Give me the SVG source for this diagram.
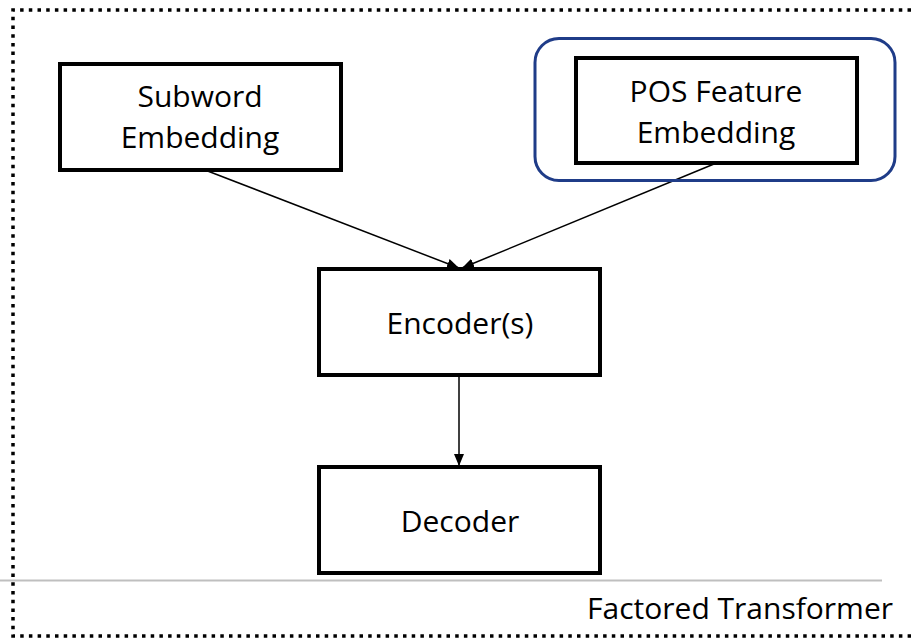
<svg xmlns="http://www.w3.org/2000/svg" width="911" height="638" viewBox="0 0 911 638">
<style>
  .box { fill: #ffffff; stroke: #000000; stroke-width: 4; }
  .lbl { font-family: "Open Sans", "Liberation Sans", sans-serif; font-size: 30px; fill: #000000; text-anchor: middle; }
  .edge { stroke: #000000; stroke-width: 1.5; fill: none; marker-end: url(#arrow); }
</style>
<defs>
  <marker id="arrow" markerUnits="userSpaceOnUse" markerWidth="12" markerHeight="12" viewBox="0 0 12 12" refX="12" refY="6" orient="auto">
    <path d="M0,1 L12,6 L0,11 Z" fill="#000000"/>
  </marker>
</defs>
<rect width="911" height="638" fill="#ffffff"/>
<g id="frame">
  <path d="M911 10 H13 V636 H911" fill="none" stroke="#000000" stroke-width="3.5" stroke-dasharray="3.5 5.2"/>
  <line x1="0" y1="580.5" x2="882" y2="580.5" stroke="#bfbfbf" stroke-width="2"/>
  <text x="893" y="619" style="font-family: 'Open Sans', 'Liberation Sans', sans-serif; font-size: 30px; text-anchor: end;">Factored Transformer</text>
</g>
<g id="connectors">
  <line class="edge" x1="205" y1="170" x2="459" y2="268"/>
  <line class="edge" x1="714" y1="164" x2="462" y2="268"/>
  <line class="edge" x1="459" y1="375" x2="459" y2="466"/>
</g>
<g id="pos-highlight">
  <rect x="535" y="38.5" width="360" height="142" rx="24" ry="24" fill="none" stroke="#1F3C88" stroke-width="3"/>
</g>
<g id="subword">
  <rect class="box" x="60" y="64" width="281" height="106"/>
  <text class="lbl" x="200" y="107">Subword</text>
  <text class="lbl" x="200" y="148">Embedding</text>
</g>
<g id="pos">
  <rect class="box" x="576" y="58" width="281" height="105"/>
  <text class="lbl" x="716" y="102">POS Feature</text>
  <text class="lbl" x="716" y="143">Embedding</text>
</g>
<g id="encoder">
  <rect class="box" x="319" y="269" width="281" height="106"/>
  <text class="lbl" x="460" y="334">Encoder(s)</text>
</g>
<g id="decoder">
  <rect class="box" x="319" y="467" width="281" height="106"/>
  <text class="lbl" x="460" y="532">Decoder</text>
</g>
</svg>
